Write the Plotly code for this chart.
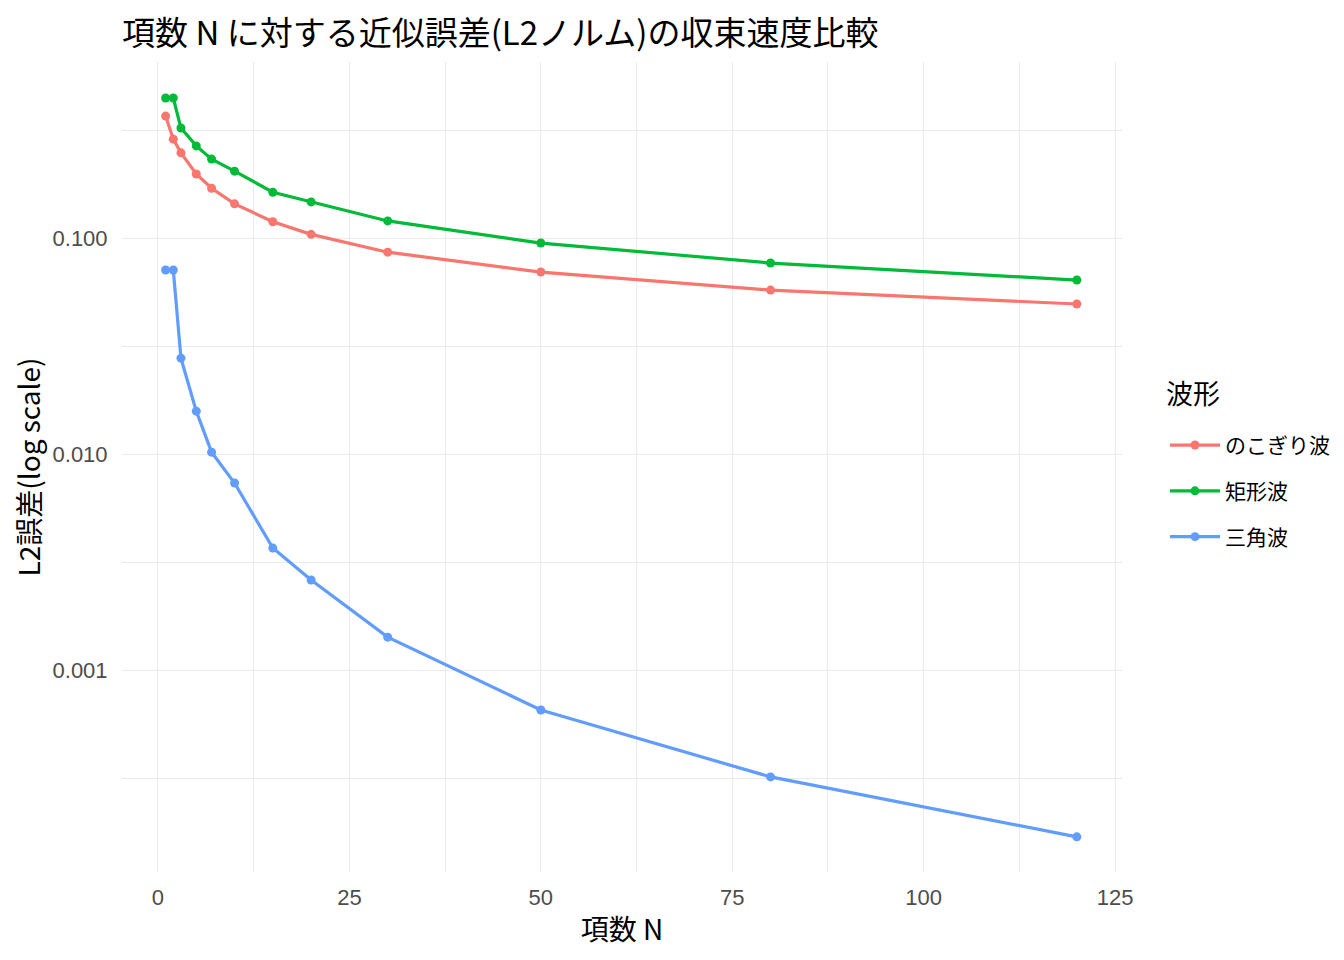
import plotly.graph_objects as go

# 項数 N
n_terms = [1, 2, 3, 5, 7, 10, 15, 20, 30, 50, 80, 120]

# L2 errors (log scale)
err_saw = [0.367, 0.287, 0.248, 0.198, 0.170, 0.144, 0.119, 0.104, 0.086, 0.0696, 0.0574, 0.0495]
err_square = [0.445, 0.445, 0.323, 0.267, 0.232, 0.204, 0.163, 0.147, 0.120, 0.0948, 0.0766, 0.0639]
err_tri = [0.0711, 0.0711, 0.0278, 0.0158, 0.0102, 0.00734, 0.00367, 0.00261, 0.00142, 0.000653, 0.000320, 0.000169]

series = [
    ("のこぎり波", err_saw, "#F8766D"),
    ("矩形波", err_square, "#00BA38"),
    ("三角波", err_tri, "#619CFF"),
]

fig = go.Figure()
for name, vals, col in series:
    fig.add_trace(go.Scatter(
        x=n_terms, y=vals, name=name, legendgroup=name, mode="lines+markers",
        line=dict(color=col, width=3.2),
        marker=dict(color=col, size=9),
    ))

font_jp = "Noto Sans CJK JP"
W, H = 1336, 952  # page body adds 8px offset
fig.update_layout(
    width=W, height=H,
    plot_bgcolor="white", paper_bgcolor="white",
    margin=dict(l=114, r=222, t=54, b=88, autoexpand=False),
    title=dict(text="項数 N に対する近似誤差(L2ノルム)の収束速度比較",
               x=114/W, xanchor="left", y=1-25/H, yanchor="middle",
               font=dict(family=font_jp, size=33, color="black")),
    legend=dict(
        x=1.043, xanchor="left", y=0.552, yanchor="top",
        font=dict(family=font_jp, size=21, color="black"),
        tracegroupgap=15.5, itemwidth=50,
    ),
    xaxis=dict(
        title=dict(text="項数 N", font=dict(family=font_jp, size=28, color="black"), standoff=10),
        range=[-4.7, 125.9], tickvals=[0, 25, 50, 75, 100, 125],
        tickfont=dict(family="Liberation Sans", size=22, color="#4d4d4d"),
        showgrid=True, gridcolor="#ebebeb", gridwidth=1.1, zeroline=False,
        minor=dict(tickvals=[12.5, 37.5, 62.5, 87.5, 112.5], showgrid=True,
                   gridcolor="#ebebeb", gridwidth=0.6),
        ticks="outside", ticklen=6, tickcolor="rgba(0,0,0,0)", showline=False,
    ),
    yaxis=dict(
        title=dict(text="L2誤差(log scale)", font=dict(family=font_jp, size=28, color="black"), standoff=6),
        type="log", range=[-3.935, -0.185],
        tickvals=[0.001, 0.01, 0.1], ticktext=["0.001", "0.010", "0.100"],
        tickfont=dict(family="Liberation Sans", size=22, color="#4d4d4d"),
        showgrid=True, gridcolor="#ebebeb", gridwidth=1.1, zeroline=False,
        minor=dict(tickvals=[10**-3.5, 10**-2.5, 10**-1.5, 10**-0.5], showgrid=True,
                   gridcolor="#ebebeb", gridwidth=0.6),
        ticks="outside", ticklen=9, tickcolor="rgba(0,0,0,0)", showline=False,
    ),
)

# legend title placed separately to get ggplot-like spacing
fig.add_annotation(text="波形", xref="paper", yref="paper", x=1.042, y=0.5914,
                   xanchor="left", yanchor="middle", showarrow=False,
                   font=dict(family=font_jp, size=27, color="black"))

fig.write_html("out.html")
